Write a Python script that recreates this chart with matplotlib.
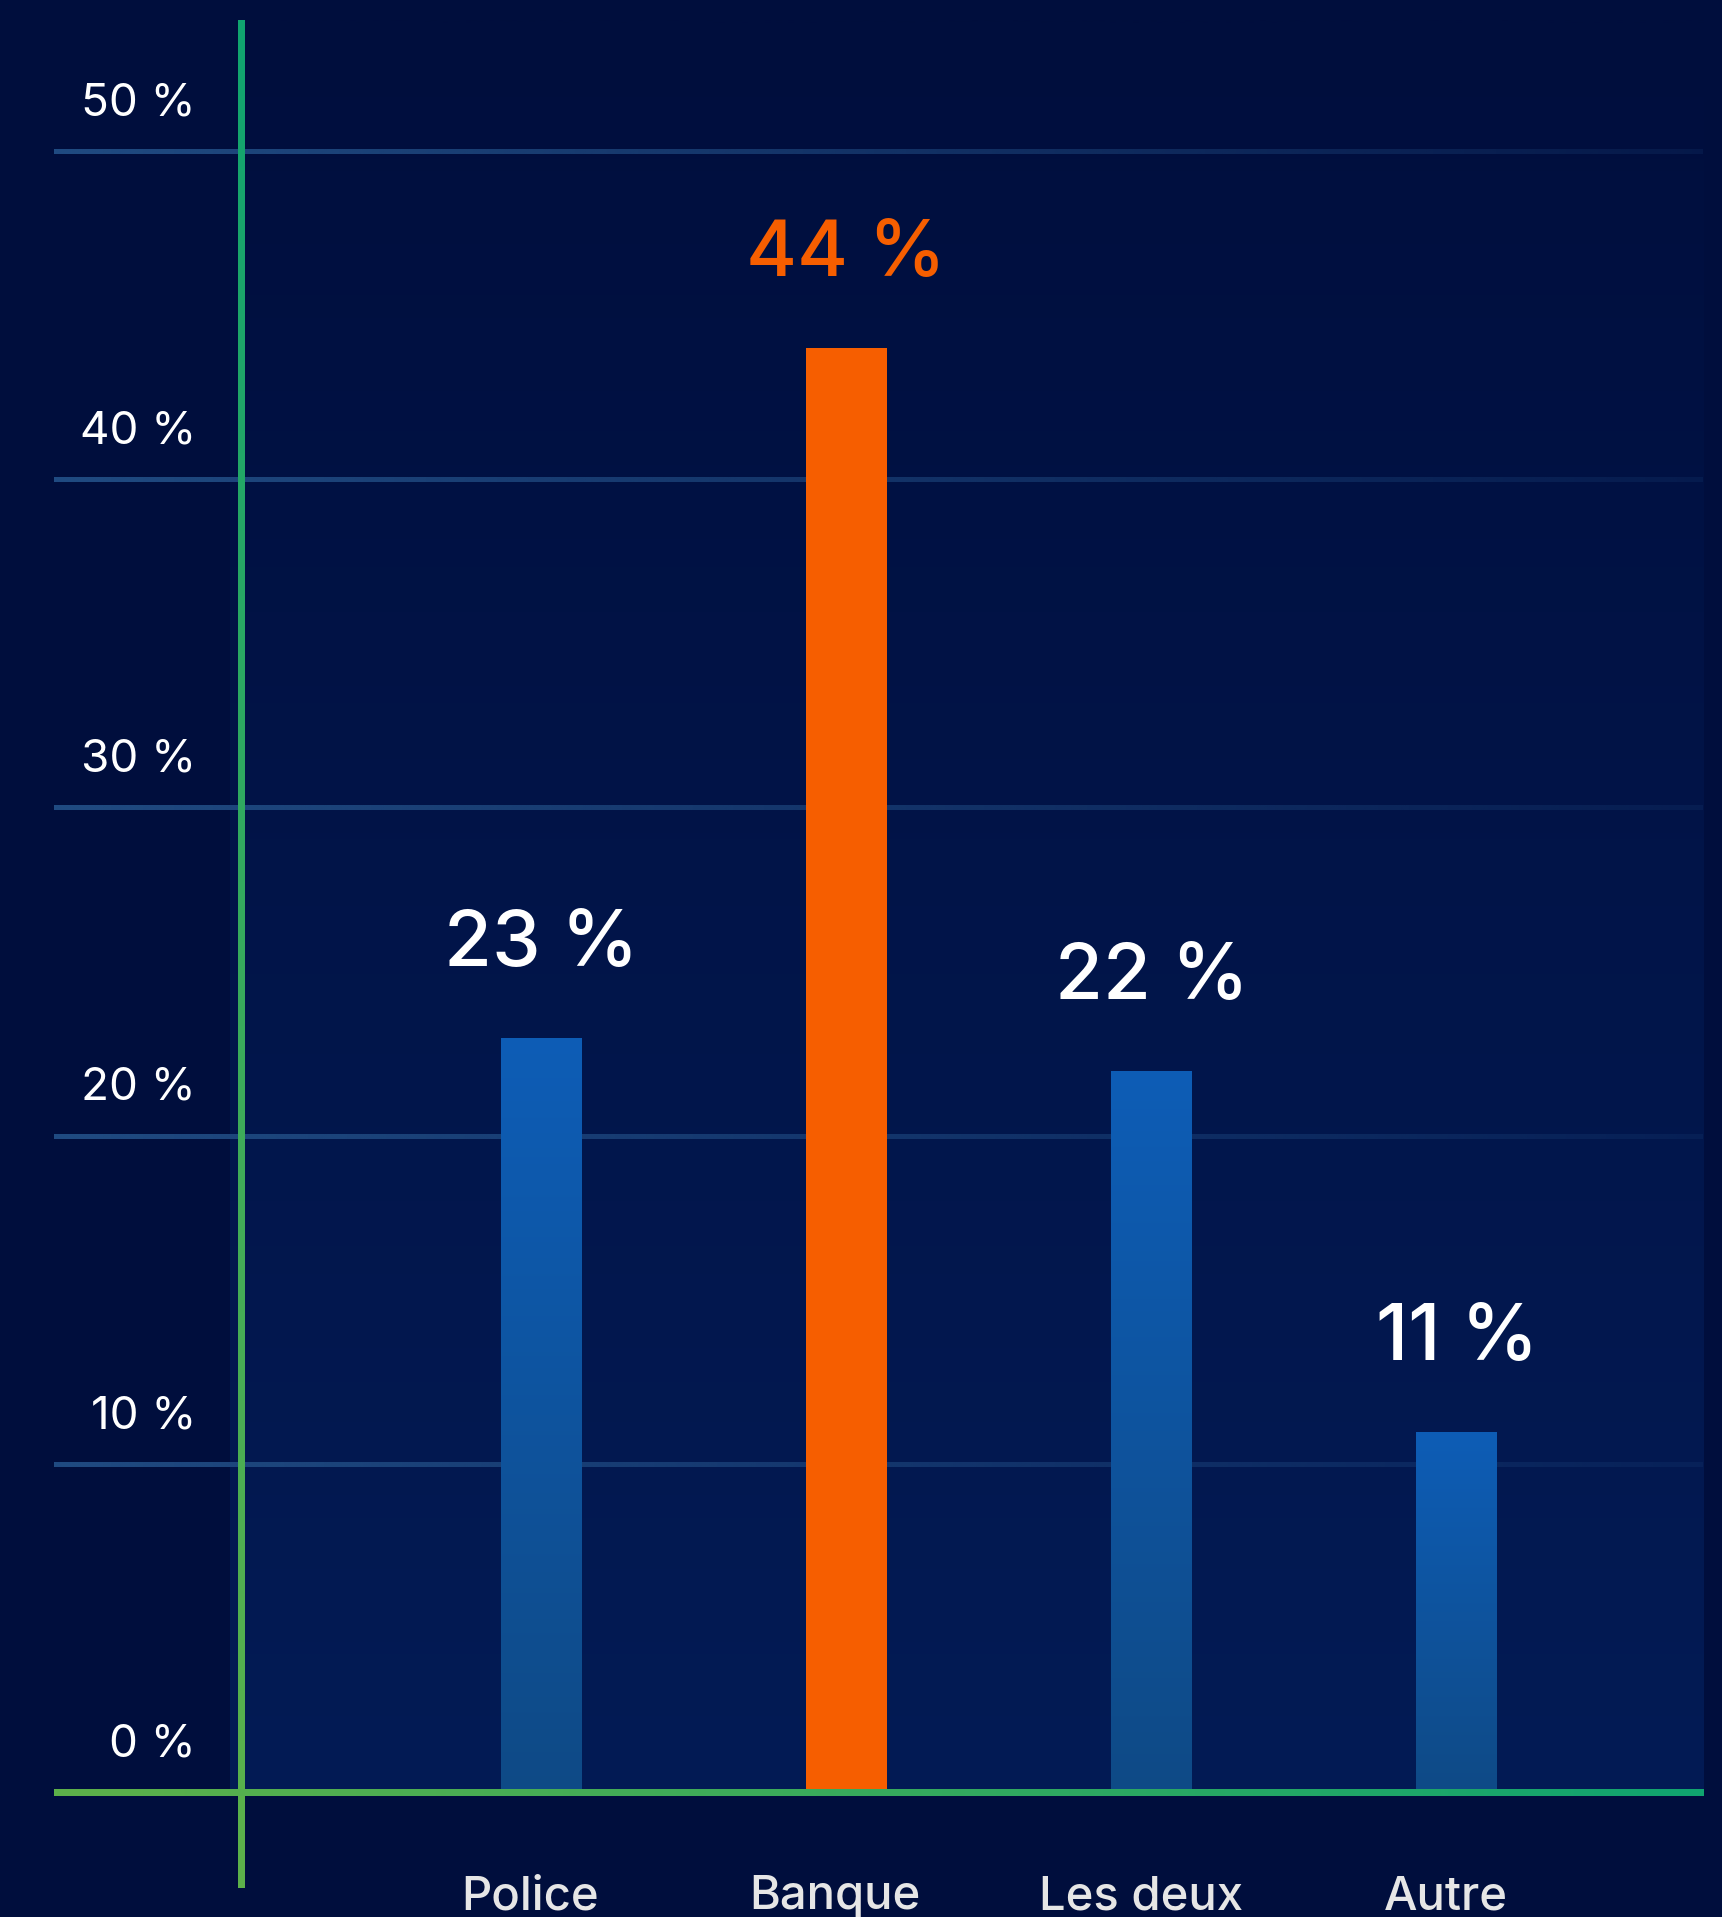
import numpy as np
import matplotlib
matplotlib.use("Agg")
import matplotlib.pyplot as plt
from matplotlib.colors import to_rgb

# ---- data -------------------------------------------------------------
categories = ["Police", "Banque", "Les deux", "Autre"]
values = [23, 44, 22, 11]
value_labels = ["23 %", "44 %", "22 %", "11 %"]
highlight = "Banque"
y_ticks = [0, 10, 20, 30, 40, 50]
y_tick_labels = ["0 %", "10 %", "20 %", "30 %", "40 %", "50 %"]

# ---- style ------------------------------------------------------------
BG = "#000e3d"
PANEL_BOTTOM = "#031b55"
GRID = "#204b82"
BLUE_TOP = "#0d5db6"
BLUE_BOTTOM = "#0f4a86"
ORANGE = "#f65e00"
GREEN_A = "#10a470"   # teal end
GREEN_B = "#5db14a"   # lime end
FONT = ["Inter", "DejaVu Sans"]

W, H, DPI = 1722, 1917, 100
fig = plt.figure(figsize=(W / DPI, H / DPI), dpi=DPI)
fig.patch.set_facecolor(BG)

# pixel layout of the drawing area
left_px, right_px, top_px, bottom_px = 42, 1704, 20, 1888
zero_px, px_per_unit = 1793, 32.83       # y: 1 percentage point
first_px, step_px = 541, 305.33          # x: category spacing

ax = fig.add_axes([left_px / W, 1 - bottom_px / H,
                   (right_px - left_px) / W, (bottom_px - top_px) / H])
ax.set_facecolor("none")
ax.axis("off")


def xd(px):
    return (px - first_px) / step_px


def yd(py):
    return (zero_px - py) / px_per_unit


def hdy(px):
    return px / px_per_unit


def hdx(px):
    return px / step_px


def ramp(c0, c1, n=256):
    a = np.array(to_rgb(c0))
    b = np.array(to_rgb(c1))
    s = np.linspace(0, 1, n)[:, None]
    return a[None, :] * (1 - s) + b[None, :] * s


xlim = (xd(left_px), xd(right_px))
ylim = (yd(bottom_px), yd(top_px))

# ---- panel with vertical gradient ------------------------------------
panel = ramp(BG, PANEL_BOTTOM)[:, None, :]
ax.imshow(panel, extent=(xd(230), xd(1703), 0, ylim[1]), aspect="auto",
          interpolation="bilinear", zorder=0, origin="upper")

# ---- gridlines fading to the right -----------------------------------
gc = np.array(to_rgb(GRID))
n = 400
grid_img = np.zeros((1, n, 4))
grid_img[0, :, :3] = gc
grid_img[0, :, 3] = np.linspace(1.0, 0.18, n)
for v in y_ticks[1:]:
    ax.imshow(grid_img, extent=(xd(54), xd(1702), v - hdy(2.3), v + hdy(2.3)),
              aspect="auto", interpolation="bilinear", zorder=1)

# ---- bars ---------------------------------------------------------------
x = np.arange(len(categories))
bar_w = 81 / step_px
bar_grad = ramp(BLUE_TOP, BLUE_BOTTOM)[:, None, :]
bars = ax.bar(x, values, width=bar_w, zorder=2, linewidth=0)
for xi, val, cat, patch in zip(x, values, categories, bars):
    if cat == highlight:
        patch.set_facecolor(ORANGE)
    else:
        patch.set_facecolor("none")
        im = ax.imshow(bar_grad, extent=(xi - bar_w / 2, xi + bar_w / 2, 0, val),
                       aspect="auto", interpolation="bilinear", zorder=2,
                       origin="upper")
        im.set_clip_path(patch)

# ---- value labels -------------------------------------------------------
for xi, val, lab, cat in zip(x, values, value_labels, categories):
    ax.text(xi, val + 2.2, lab, ha="center", va="baseline",
            fontsize=56, fontweight="medium", family=FONT,
            color=ORANGE if cat == highlight else "white", zorder=5)

# ---- gradient axis lines -----------------------------------------------
# vertical axis: teal at the top, lime at the bottom
vline = ramp(GREEN_A, GREEN_B)[:, None, :]
ax.imshow(vline, extent=(xd(241) - hdx(3.5), xd(241) + hdx(3.5), ylim[0], ylim[1]),
          aspect="auto", interpolation="bilinear", zorder=4, origin="upper")

# baseline: lime on the left, teal on the right
hline = ramp(GREEN_B, GREEN_A)[None, :, :]
ax.imshow(hline, extent=(xd(54), xd(1704), -hdy(3.3), hdy(3.3)),
          aspect="auto", interpolation="bilinear", zorder=4)

# ---- y tick labels ------------------------------------------------------
for v, lab in zip(y_ticks, y_tick_labels):
    ax.text(xd(196), v + hdy(36.5), lab, ha="right", va="baseline",
            fontsize=33, fontweight="normal", family=FONT, color="white",
            zorder=5)

# ---- category labels ----------------------------------------------------
for xi, cat in zip(x, categories):
    ax.text(xi - hdx(11), yd(1909), cat, ha="center", va="baseline",
            fontsize=34, fontweight="medium", family=FONT, color="#e6e6e6",
            zorder=5, clip_on=False)

ax.set_xlim(*xlim)
ax.set_ylim(*ylim)

fig.savefig("out.png", dpi=DPI, facecolor=BG)
